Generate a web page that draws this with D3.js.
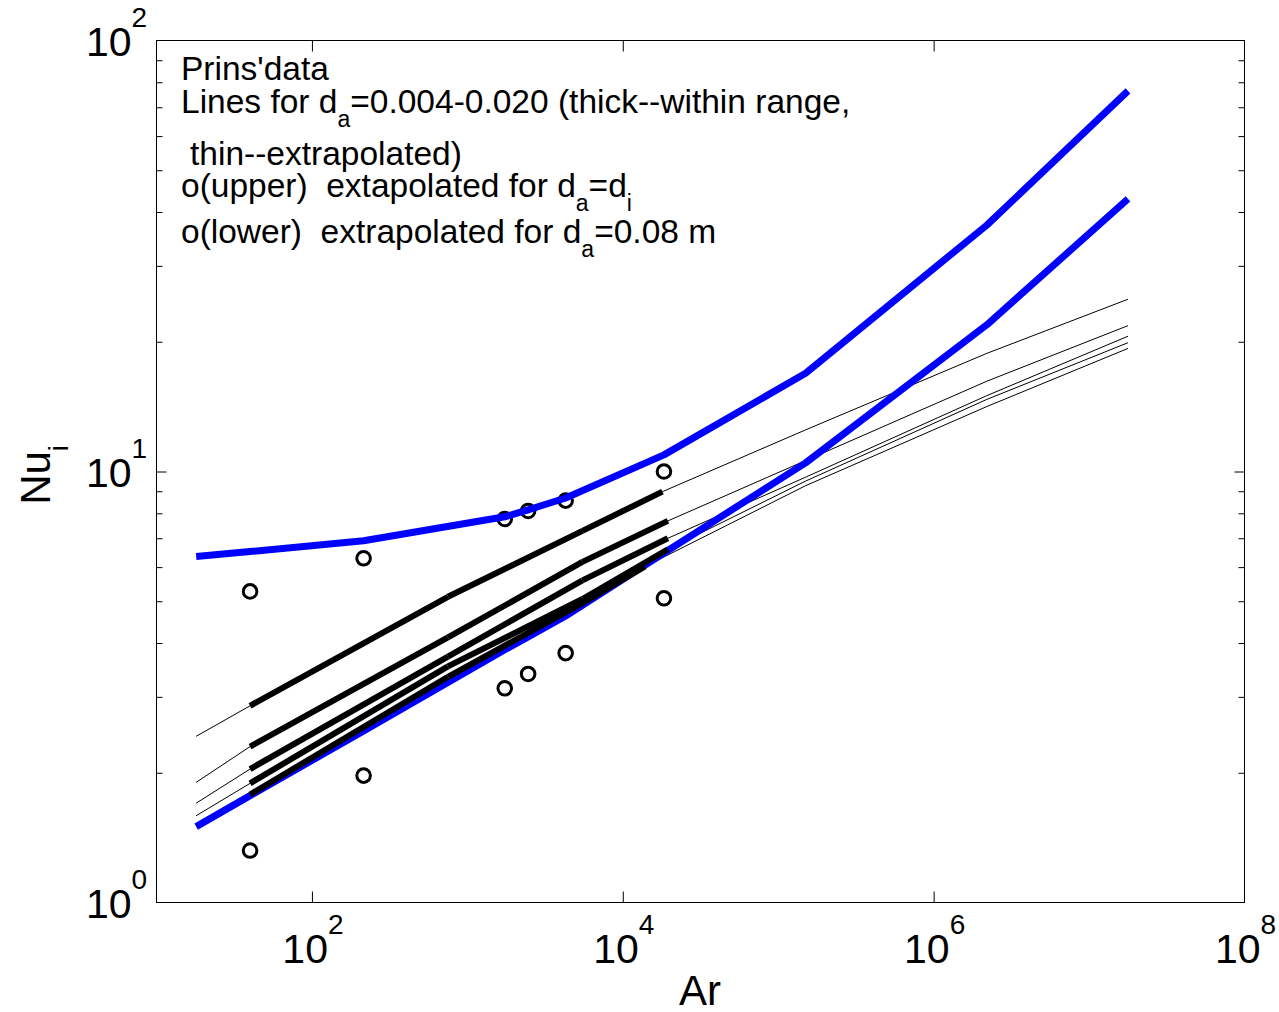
<!DOCTYPE html>
<html>
<head>
<meta charset="utf-8">
<script src="https://cdn.jsdelivr.net/npm/d3@7"></script>
<style>
  html, body { margin: 0; padding: 0; background: #fff; }
  svg { display: block; font-family: "Liberation Sans", Arial, Helvetica, sans-serif; }
  text { white-space: pre; fill: #000; }
</style>
</head>
<body>
<svg id="chart" width="1279" height="1012"></svg>
<script>
// Prins' data: measured Nu_i against Ar (two extrapolations per Ar)
const circleAr      = [40, 215, 1740, 2460, 4290, 18400];
const circleNuUpper = [5.27, 6.29, 7.76, 8.10, 8.56, 10.0];
const circleNuLower = [1.32, 1.97, 3.14, 3.39, 3.79, 5.08];

// Blue curves: extrapolation for d_a = d_i (upper) and d_a = 0.08 m (lower)
const blueAr      = [18, 40, 215, 1740, 2460, 4290, 18400, 150000, 2.2e6, 1.78e7];
const blueNuUpper = [6.35, 6.52, 6.91, 7.85, 8.15, 8.68, 10.93, 16.9, 37.3, 76.4];
const blueNuLower = [1.50, 1.77, 2.50, 3.86, 4.13, 4.62, 6.47, 10.47, 21.9, 42.9];

// Correlation lines for d_a = 0.004 ... 0.020
const lineAr  = [18, 40, 750, 5500, 150000, 2.2e6, 1.78e7];
const lineNu1 = [2.43, 2.86, 5.12, 7.28, 12.49, 18.8, 25.1];
const lineNu2 = [1.90, 2.30, 4.12, 6.17, 10.6, 16.2, 21.8];
const lineNu3 = [1.70, 2.04, 3.72, 5.59, 9.7, 15.0, 20.6];
const lineNu4 = [1.59, 1.89, 3.53, 5.06, 9.5, 14.7, 19.9];
const lineNu5 = [1.50, 1.78, 3.34, 4.95, 9.27, 14.15, 19.3];
// end of the measured (thick) range of each line
const thickStartAr = 40;
const thickEndAr = [18000, 19500, 19500, 19500, 13900];
const thickEndNu = [8.98, 7.68, 7.00, 6.60, 6.02];

// Axis ticks
const xTickValues = [1e2, 1e4, 1e6, 1e8];
const xTickExp    = ["2", "4", "6", "8"];
const yTickValues = [1, 10, 100];
const yTickExp    = ["0", "1", "2"];
const yMinorTicks = [2, 3, 4, 5, 6, 7, 8, 9, 20, 30, 40, 50, 60, 70, 80, 90];

const svg = d3.select("#chart");
const padL = 156.5, padR = 1244.5, padT = 40.5, padB = 902.5;

const x = d3.scaleLog().domain([10, 1e8]).range([padL, padR]);
const y = d3.scaleLog().domain([1, 100]).range([padB, padT]);

svg.append("defs").append("clipPath").attr("id", "plotArea")
  .append("rect").attr("x", padL).attr("y", padT)
  .attr("width", padR - padL).attr("height", padB - padT);

const plot = svg.append("g").attr("clip-path", "url(#plotArea)");
const line = d3.line().x(d => x(d[0])).y(d => y(d[1]));

// measured points
const circles = circleAr.map((a, i) => [a, circleNuUpper[i]])
  .concat(circleAr.map((a, i) => [a, circleNuLower[i]]));
plot.append("g").selectAll("circle").data(circles).join("circle")
  .attr("cx", d => x(d[0])).attr("cy", d => y(d[1])).attr("r", 6.8)
  .attr("fill", "none").attr("stroke", "#000").attr("stroke-width", 3);

// full correlation lines (thin, incl. extrapolated parts)
const lineSeries = [lineNu1, lineNu2, lineNu3, lineNu4, lineNu5].map((nu, k) => {
  const pts = lineAr.map((a, i) => [a, nu[i]]);
  pts.push([thickEndAr[k], thickEndNu[k]]);
  pts.sort((p, q) => p[0] - q[0]);
  return pts;
});
plot.append("g").selectAll("path").data(lineSeries).join("path")
  .attr("d", line).attr("fill", "none")
  .attr("stroke", "#000").attr("stroke-width", 1);

// blue extrapolation curves
plot.append("g").selectAll("path")
  .data([blueAr.map((a, i) => [a, blueNuUpper[i]]), blueAr.map((a, i) => [a, blueNuLower[i]])])
  .join("path")
  .attr("d", line).attr("fill", "none")
  .attr("stroke", "#0000ff").attr("stroke-width", 7)
  .attr("stroke-linejoin", "round");

// thick parts: within the measured range, drawn segment by segment
const thickSegs = [];
lineSeries.forEach((pts, k) => {
  const inRange = pts.filter(p => p[0] >= thickStartAr && p[0] <= thickEndAr[k]);
  for (let i = 0; i < inRange.length - 1; i++) thickSegs.push([inRange[i], inRange[i + 1]]);
});
plot.append("g").selectAll("path").data(thickSegs).join("path")
  .attr("d", line).attr("fill", "none")
  .attr("stroke", "#000").attr("stroke-width", 6).attr("stroke-linecap", "butt");

// axes box
svg.append("rect").attr("x", padL).attr("y", padT)
  .attr("width", padR - padL).attr("height", padB - padT)
  .attr("fill", "none").attr("stroke", "#000").attr("stroke-width", 1);

function ticks(axis, tx, ty) {
  const g = svg.append("g").attr("transform", `translate(${tx},${ty})`).call(axis);
  g.select(".domain").remove();
  g.selectAll("text").remove();
  g.selectAll("line").attr("stroke", "#000");
}
ticks(d3.axisBottom(x).tickValues(xTickValues.slice(0, 3)).tickSizeInner(-11).tickSizeOuter(0).tickFormat(""), 0, padB);
ticks(d3.axisTop(x).tickValues(xTickValues.slice(0, 3)).tickSizeInner(-11).tickSizeOuter(0).tickFormat(""), 0, padT);
ticks(d3.axisLeft(y).tickValues(yMinorTicks).tickSizeInner(-6).tickSizeOuter(0).tickFormat(""), padL, 0);
ticks(d3.axisLeft(y).tickValues([10]).tickSizeInner(-10).tickSizeOuter(0).tickFormat(""), padL, 0);
ticks(d3.axisRight(y).tickValues(yMinorTicks).tickSizeInner(-6).tickSizeOuter(0).tickFormat(""), padR, 0);
ticks(d3.axisRight(y).tickValues([10]).tickSizeInner(-10).tickSizeOuter(0).tickFormat(""), padR, 0);

// tick labels 10^k
xTickValues.forEach((v, i) => {
  const t = svg.append("text").attr("x", x(v) + 1).attr("y", 963)
    .attr("text-anchor", "middle").attr("font-size", 41);
  t.append("tspan").text("10");
  t.append("tspan").attr("font-size", 28).attr("dy", -29).text(xTickExp[i]);
});
yTickValues.forEach((v, i) => {
  const t = svg.append("text").attr("x", 86).attr("y", y(v) + 15.5)
    .attr("font-size", 41);
  t.append("tspan").text("10");
  t.append("tspan").attr("font-size", 28).attr("dy", -29).text(yTickExp[i]);
});

// axis titles
svg.append("text").attr("x", 700).attr("y", 1005).attr("text-anchor", "middle")
  .attr("font-size", 42).text("Ar");
const yl = svg.append("text").attr("transform", "translate(50,475) rotate(-90)")
  .attr("text-anchor", "middle").attr("font-size", 42);
yl.append("tspan").text("Nu");
yl.append("tspan").attr("font-size", 27).attr("dy", 18).text("i");

// annotation
const noteLines = [
  { y: 80,  x: 181, parts: [["Prins'data"]] },
  { y: 113, x: 181, parts: [["Lines for d"], ["a", "sub"], ["=0.004-0.020 (thick--within range,"]] },
  { y: 165, x: 190, parts: [["thin--extrapolated)"]] },
  { y: 197, x: 181, parts: [["o(upper)  extapolated for d"], ["a", "sub"], ["=d"], ["i", "sub"]] },
  { y: 243, x: 181, parts: [["o(lower)  extrapolated for d"], ["a", "sub"], ["=0.08 m"]] }
];
noteLines.forEach(l => {
  const t = svg.append("text").attr("x", l.x).attr("y", l.y).attr("font-size", 33.5);
  let shifted = false;
  l.parts.forEach(p => {
    const s = t.append("tspan").text(p[0]);
    if (p[1] === "sub") { s.attr("font-size", 23).attr("dy", 14); shifted = true; }
    else if (shifted) { s.attr("dy", -14); shifted = false; }
  });
});
</script>
</body>
</html>
